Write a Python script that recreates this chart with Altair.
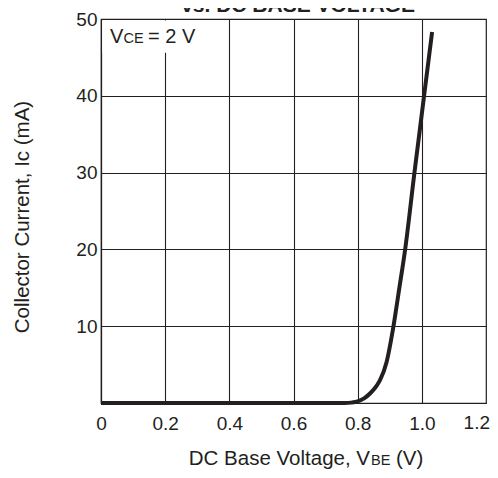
import altair as alt
import pandas as pd

# ---- data ----
vbe = [0.0, 0.70, 0.76, 0.78, 0.80, 0.82, 0.84, 0.86, 0.87, 0.89, 0.91, 0.93, 0.948, 0.977, 1.007, 1.032]
ic = [0.0, 0.0, 0.0, 0.05, 0.2, 0.6, 1.3, 2.3, 3.0, 5.3, 9.6, 15.0, 20.0, 30.0, 40.0, 48.3]
x_ticks = [0, 0.2, 0.4, 0.6, 0.8, 1.0]
last_x_tick = "1.2"
y_ticks = [10, 20, 30, 40, 50]
label_box_x = [0.004, 0.33]
label_box_y = [45.6, 49.8]

title_text = "vs. DC BASE VOLTAGE"
y_title = "Collector Current, Ic (mA)"

FONT = "Liberation Sans"
INK = "#231f20"

curve_df = pd.DataFrame({"vbe": vbe, "ic": ic})
box_df = pd.DataFrame({"vbe": [label_box_x[0]], "vbe2": [label_box_x[1]],
                       "ic": [label_box_y[0]], "ic2": [label_box_y[1]]})

x_scale = alt.Scale(domain=[0, 1.2], nice=False, zero=False)
y_scale = alt.Scale(domain=[0, 50], nice=False)

x_axis = alt.Axis(values=x_ticks, title=None, ticks=False, labelPadding=11,
                  labelFlush=False, labelOverlap=False,
                  labelExpr="datum.value == 0 ? '0' : format(datum.value, '.1f')")
y_axis = alt.Axis(values=y_ticks, title=None, ticks=False, labelPadding=4,
                  labelOverlap=False, labelFlush=False)

mask = alt.Chart(box_df).mark_rect(color="white").encode(
    x=alt.X("vbe:Q", scale=x_scale, axis=x_axis),
    x2="vbe2:Q",
    y=alt.Y("ic:Q", scale=y_scale, axis=y_axis),
    y2="ic2:Q",
)

line = alt.Chart(curve_df).mark_line(
    color=INK, strokeWidth=4, interpolate="monotone", strokeCap="butt"
).encode(
    x=alt.X("vbe:Q", scale=x_scale, axis=x_axis),
    y=alt.Y("ic:Q", scale=y_scale, axis=y_axis),
)


def label(text, x, y, size, weight="normal", align="left", angle=0, baseline="alphabetic"):
    kw = dict(font=FONT, fontSize=size, fontWeight=weight, color=INK,
              align=align, baseline=baseline)
    if angle:
        kw["angle"] = angle
    return alt.Chart(pd.DataFrame({"t": [text]})).mark_text(**kw).encode(
        x=alt.value(x), y=alt.value(y), text="t:N"
    )


texts = [
    label(title_text, 197, -7, 21, weight="bold", align="center"),
    # last x tick label, kept inside the page edge (y measured from plot top)
    label(last_x_tick, 389, 384 + 11, 19, align="right", baseline="top"),
    # annotation V_CE = 2 V
    label("V", 9, 24, 20),
    label("CE", 22.5, 24, 14.5),
    label("= 2 V", 47, 24, 20),
    # x title DC Base Voltage, V_BE (V)
    label("DC Base Voltage, V", 269, 446, 20.5, align="right"),
    label("BE", 270, 446, 14.5),
    label("(V)", 295, 446, 20.5),
    # y title
    label(y_title, -78, 198, 20.5, align="center", angle=270, baseline="middle"),
]

chart = alt.layer(mask, line, *texts).properties(
    width=385,
    height=384,
    autosize=alt.AutoSizeParams(type="none"),
    padding={"left": 93, "top": 11, "right": 4, "bottom": 67},
    background="white",
).configure_axis(
    labelFont=FONT, labelFontSize=19, labelColor=INK,
    domainColor=INK, domainWidth=1.2,
    gridColor=INK, gridWidth=1.1, gridOpacity=1,
).configure_view(stroke=INK, strokeWidth=1.2)

chart.save("out.html", embed_options={"renderer": "svg", "actions": False})
